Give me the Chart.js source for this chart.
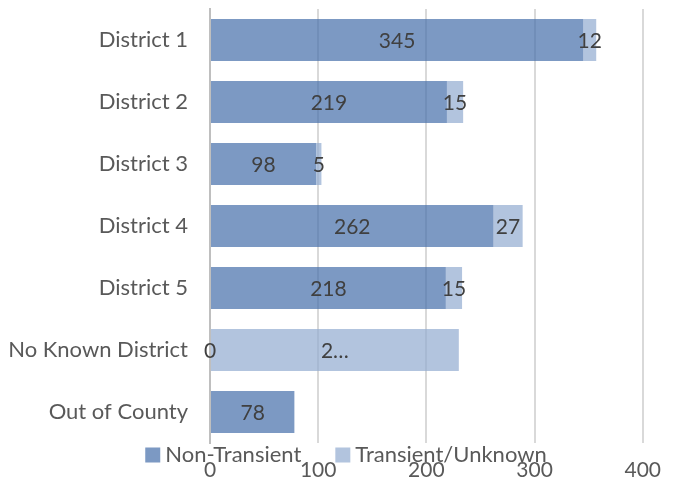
<!DOCTYPE html>
<html>
<head>
<meta charset="utf-8">
<script src="https://cdn.jsdelivr.net/npm/chart.js@4.4.0/dist/chart.umd.min.js"></script>
<style>
  html, body { margin: 0; padding: 0; background: #fff; }
  #wrap { width: 676px; height: 485px; }
</style>
</head>
<body>
<div id="wrap"><canvas id="districtChart"></canvas></div>
<script>
const categories = ['District 1', 'District 2', 'District 3', 'District 4', 'District 5', 'No Known District', 'Out of County'];
const nonTransient = [345, 219, 98, 262, 218, 0, 78];
const transient = [12, 15, 5, 27, 15, 230, null];
const nonTransientLabels = ['345', '219', '98', '262', '218', '0', '78'];
const transientLabels = ['12', '15', '5', '27', '15', '2…', ''];
const xTicks = [0, 100, 200, 300, 400];

const fontFamily = 'Lato, "Open Sans", sans-serif';

// value labels drawn in the middle of each segment
const valueLabels = {
    id: 'valueLabels',
    afterDatasetsDraw(chart) {
        const ctx = chart.ctx;
        const texts = [nonTransientLabels, transientLabels];
        ctx.save();
        ctx.font = '21px ' + fontFamily;
        ctx.fillStyle = '#404040';
        ctx.textAlign = 'center';
        ctx.textBaseline = 'middle';
        chart.data.datasets.forEach(function(ds, i) {
            chart.getDatasetMeta(i).data.forEach(function(bar, j) {
                let t = texts[i][j];
                if (!t) return;
                let cx = (bar.x + bar.base) / 2;
                ctx.fillText(t, cx, bar.y + 1);
            });
        });
        ctx.restore();
    }
};

// Excel-style legend sitting between the plot and the tick labels
const bottomLegend = {
    id: 'bottomLegend',
    afterDraw(chart) {
        const ctx = chart.ctx;
        const y = chart.chartArea.bottom + 12;
        ctx.save();
        ctx.font = '22px ' + fontFamily;
        ctx.textBaseline = 'middle';
        let box = 15, gap = 5, spacing = 34;
        let items = chart.data.datasets.map(ds => ({ text: ds.label, color: ds.backgroundColor }));
        let total = 0;
        items.forEach(function(it, k) {
            it.w = box + gap + ctx.measureText(it.text).width;
            total += it.w + (k ? spacing : 0);
        });
        let x = chart.width / 2 - total / 2 + 8;
        items.forEach(function(it) {
            ctx.fillStyle = it.color;
            ctx.fillRect(x, y - box / 2, box, box);
            ctx.fillStyle = '#595959';
            ctx.fillText(it.text, x + box + gap, y);
            x += it.w + spacing;
        });
        ctx.restore();
    }
};

new Chart(document.getElementById('districtChart'), {
    type: 'bar',
    data: {
        labels: categories,
        datasets: [{
            label: 'Non-Transient',
            data: nonTransient,
            backgroundColor: 'rgba(68, 110, 170, 0.7)',
            borderWidth: 0,
            barPercentage: 0.68,
            categoryPercentage: 1
        }, {
            label: 'Transient/Unknown',
            data: transient,
            backgroundColor: 'rgba(146, 171, 208, 0.7)',
            borderWidth: 0,
            barPercentage: 0.68,
            categoryPercentage: 1
        }]
    },
    options: {
        indexAxis: 'y',
        responsive: true,
        maintainAspectRatio: false,
        animation: false,
        layout: { padding: { left: 0, right: 33, top: 9, bottom: 0 } },
        plugins: {
            legend: { display: false },
            tooltip: { enabled: false }
        },
        scales: {
            x: {
                stacked: true,
                min: 0,
                max: 400,
                afterBuildTicks: function(axis) {
                    axis.ticks = xTicks.map(v => ({ value: v }));
                },
                afterFit: function(axis) { axis.height = 42; },
                grid: { color: '#d9d9d9', lineWidth: 2, drawTicks: false },
                border: { display: false },
                ticks: {
                    padding: 15,
                    maxRotation: 0,
                    color: '#595959',
                    font: { family: fontFamily, size: 21 }
                }
            },
            y: {
                stacked: true,
                grid: { display: false },
                border: { color: '#bfbfbf', width: 2 },
                afterFit: function(axis) {
                    axis.width = 210;
                    axis.paddingTop = 0;
                    axis.paddingBottom = 0;
                },
                ticks: {
                    padding: 14,
                    color: '#595959',
                    font: { family: fontFamily, size: 22 }
                }
            }
        }
    },
    plugins: [valueLabels, bottomLegend]
});
</script>
</body>
</html>
